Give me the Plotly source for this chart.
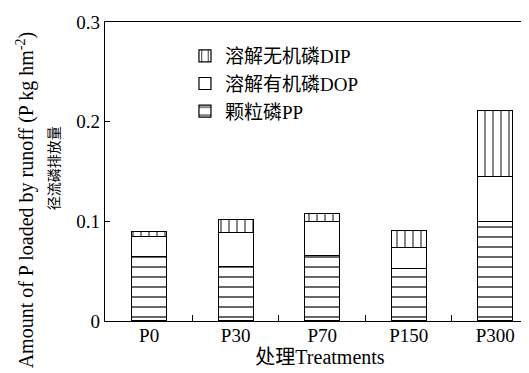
import plotly.graph_objects as go

treatments = ["P0", "P30", "P70", "P150", "P300"]
pp = [0.065, 0.055, 0.066, 0.053, 0.100]
dop = [0.020, 0.034, 0.034, 0.021, 0.045]
dip = [0.005, 0.013, 0.008, 0.017, 0.066]
yticks = [0, 0.1, 0.2, 0.3]
ytick_labels = ["0", "0.1", "0.2", "0.3"]

serif = "Times New Roman, Liberation Serif, Noto Sans CJK SC"
xpos = list(range(len(treatments)))
between = [i + 0.5 for i in xpos[:-1]]
xrange_ = [-0.51, 4.46]

fig = go.Figure()
series = [
    ("颗粒磷PP", pp, "-", 10),
    ("溶解有机磷DOP", dop, "", 8),
    ("溶解无机磷DIP", dip, "|", 8),
]
for name, vals, shape, size in series:
    fig.add_trace(go.Bar(
        x=xpos, y=vals, name=name, width=0.405,
        marker=dict(
            color="white",
            line=dict(color="black", width=1.2),
            pattern=dict(shape=shape, fgcolor="black", bgcolor="white",
                         size=size, solidity=0.12, fillmode="replace"),
        ),
    ))

# invisible helper trace for the overlay axis that carries the category labels
fig.add_trace(go.Scatter(
    x=xpos, y=pp, xaxis="x2", yaxis="y", mode="markers",
    marker=dict(opacity=0), showlegend=False, hoverinfo="skip",
))

fig.update_layout(
    barmode="stack",
    width=529, height=373,
    margin=dict(l=97, r=2, t=14, b=60),
    paper_bgcolor="white", plot_bgcolor="white",
    font=dict(family=serif, size=19, color="black"),
    showlegend=True,
    legend=dict(x=0.186, y=0.95, xanchor="left", yanchor="top",
                traceorder="reversed", bgcolor="rgba(0,0,0,0)",
                font=dict(family=serif, size=19), itemwidth=30),
    xaxis=dict(
        range=xrange_, tickvals=between, ticktext=[""] * len(between),
        ticks="inside", ticklen=6, tickcolor="black", tickwidth=1,
        showline=True, linecolor="black", linewidth=1.2, mirror=True,
        showgrid=False, zeroline=False,
    ),
    xaxis2=dict(
        overlaying="x", anchor="y", side="bottom",
        range=xrange_, tickvals=xpos, ticktext=treatments,
        ticks="", ticklabelstandoff=1,
        showline=False, showgrid=False, zeroline=False,
        title=dict(text="处理Treatments", font=dict(size=20), standoff=3),
    ),
    yaxis=dict(
        range=[0, 0.3], tickvals=yticks, ticktext=ytick_labels,
        ticks="inside", ticklen=5, tickcolor="black",
        showline=True, linecolor="black", linewidth=1.2, mirror=True,
        showgrid=False, zeroline=False,
    ),
)

fig.add_annotation(
    text="Amount of P loaded by runoff (P kg hm<sup>-2</sup>)",
    xref="paper", yref="paper", x=-0.185, y=0.405, xanchor="center", yanchor="middle",
    textangle=-90, showarrow=False, font=dict(family=serif, size=20),
)
fig.add_annotation(
    text="径流磷排放量",
    xref="paper", yref="paper", x=-0.117, y=0.51, xanchor="center", yanchor="middle",
    textangle=-90, showarrow=False, font=dict(family=serif, size=14),
)

fig.write_html("out.html")
